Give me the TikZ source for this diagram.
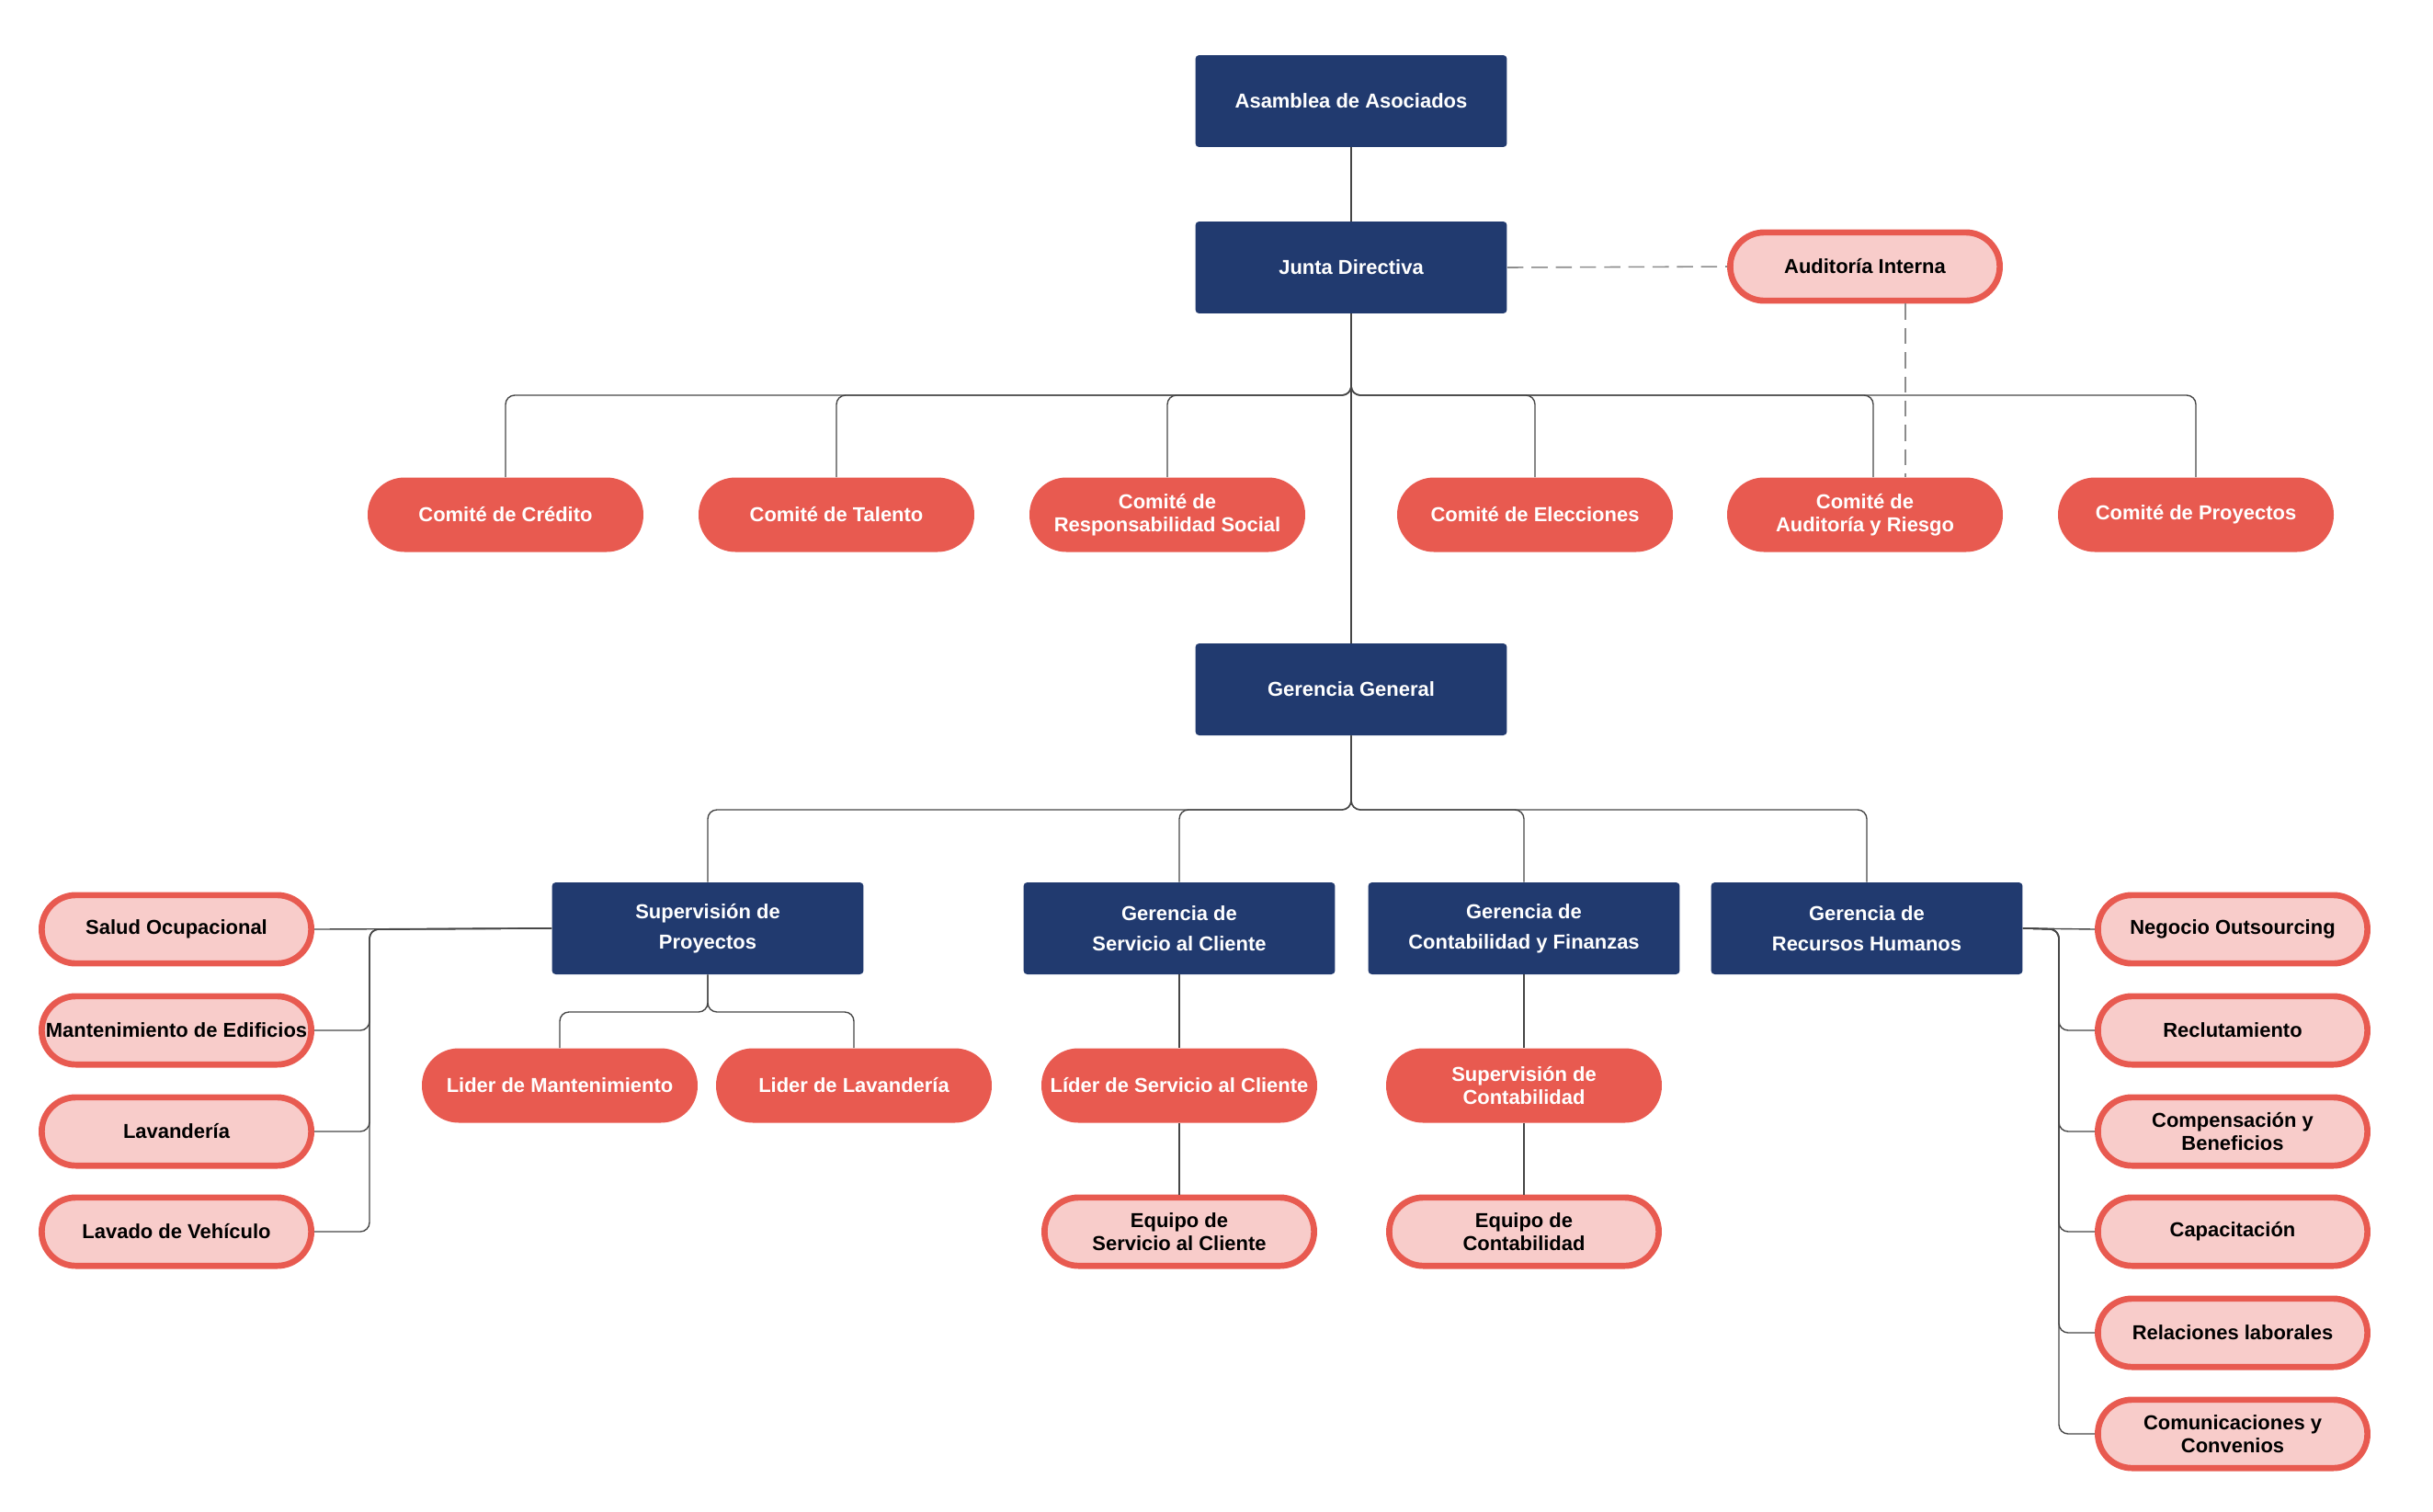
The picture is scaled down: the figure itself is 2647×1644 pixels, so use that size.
\documentclass[tikz,border=0pt]{standalone}
\usepackage{fontspec}
\setmainfont{Liberation Sans}
\usetikzlibrary{positioning}
\usetikzlibrary{calc}
\definecolor{navy}{RGB}{33,58,111}
\definecolor{coral}{RGB}{232,90,80}
\definecolor{blush}{RGB}{248,204,202}
\definecolor{wire}{RGB}{70,70,70}
\definecolor{dashgray}{RGB}{140,140,140}

\begin{document}
\begin{tikzpicture}[x=0.02cm,y=-0.02cm,
navybox/.style={rectangle,rounded corners=0.08cm,fill=navy,text=white,minimum width=6.78cm,minimum height=2cm,inner sep=1pt,align=center,font=\bfseries\fontsize{12.5}{19}\selectfont},
redpill/.style={rectangle,rounded corners=0.8cm,fill=coral,text=white,minimum width=6cm,minimum height=1.62cm,inner sep=1pt,align=center,font=\bfseries\fontsize{12.5}{14.5}\selectfont},
pinkpill/.style={rectangle,rounded corners=0.74cm,fill=blush,draw=coral,line width=3.8pt,text=black,minimum width=5.866cm,minimum height=1.486cm,inner sep=1pt,align=center,font=\bfseries\fontsize{12.5}{14.5}\selectfont},
conn/.style={draw=wire,line width=0.8pt,rounded corners=0.2cm},
dashconn/.style={draw=dashgray,line width=0.9pt,dash pattern=on 10pt off 5pt}]
\useasboundingbox (0,0) rectangle (2647,1644);
\node[navybox] (asamblea) at (1470,110) {Asamblea de Asociados};
\node[navybox] (junta) at (1470,291) {Junta Directiva};
\node[pinkpill] (auditoria) at (2029,290) {Auditoría Interna};
\node[redpill] (credito) at (550,560) {Comité de Crédito};
\node[redpill] (talento) at (910,560) {Comité de Talento};
\node[redpill] (social) at (1270,560) {Comité de\\Responsabilidad Social};
\node[redpill] (elecciones) at (1670,560) {Comité de Elecciones};
\node[redpill] (riesgo) at (2029,560) {Comité de\\Auditoría y Riesgo};
\node[redpill] (proyectos) at (2389,560) {Comité de Proyectos};
\node[navybox] (general) at (1470,750) {Gerencia General};
\node[navybox] (supproy) at (770,1010) {Supervisión de\\Proyectos};
\node[navybox] (servicio) at (1283,1010) {Gerencia de\\Servicio al Cliente};
\node[navybox] (finanzas) at (1658,1010) {Gerencia de\\Contabilidad y Finanzas};
\node[navybox] (rrhh) at (2031,1010) {Gerencia de\\Recursos Humanos};
\node[pinkpill] (salud) at (192,1011) {Salud Ocupacional};
\node[pinkpill] (edificios) at (192,1121) {Mantenimiento de Edificios};
\node[pinkpill] (lavanderia) at (192,1231) {Lavandería};
\node[pinkpill] (vehiculo) at (192,1340) {Lavado de Vehículo};
\node[redpill] (lidmant) at (609,1181) {Lider de Mantenimiento};
\node[redpill] (lidlav) at (929,1181) {Lider de Lavandería};
\node[redpill] (lidserv) at (1283,1181) {Líder de Servicio al Cliente};
\node[redpill] (supcont) at (1658,1181) {Supervisión de\\Contabilidad};
\node[pinkpill] (eqserv) at (1283,1340) {Equipo de\\Servicio al Cliente};
\node[pinkpill] (eqcont) at (1658,1340) {Equipo de\\Contabilidad};
\node[pinkpill] (outsourcing) at (2429,1011) {Negocio Outsourcing};
\node[pinkpill] (reclut) at (2429,1121) {Reclutamiento};
\node[pinkpill] (compens) at (2429,1231) {Compensación y\\Beneficios};
\node[pinkpill] (capacit) at (2429,1340) {Capacitación};
\node[pinkpill] (relac) at (2429,1450) {Relaciones laborales};
\node[pinkpill] (comunic) at (2429,1560) {Comunicaciones y\\Convenios};
\coordinate (bus1) at (1470,430);
\coordinate (bus2) at (1470,881);
\coordinate (bus3) at (770,1101);
\coordinate (lbus) at (402,1011);
\coordinate (rbus) at (2240,1011);
\draw[conn] (asamblea) -- (junta);
\draw[conn] (junta) -- (general);
\foreach \c in {credito,talento,social,elecciones,proyectos}
\draw[conn] (junta.south) -- (bus1) -| (\c.north);
\draw[conn] (junta.south) -- (bus1) -| ([xshift=0.18cm]riesgo.north);
\draw[dashconn] (junta.east) -- (auditoria.west);
\draw[dashconn] ([xshift=0.88cm]auditoria.south) -- ([xshift=0.88cm]riesgo.north);
\foreach \g in {supproy,servicio,finanzas,rrhh}
\draw[conn] (general.south) -- (bus2) -| (\g.north);
\foreach \l in {lidmant,lidlav}
\draw[conn] (supproy.south) -- (bus3) -| (\l.north);
\draw[conn] (servicio) -- (lidserv);
\draw[conn] (lidserv) -- (eqserv);
\draw[conn] (finanzas) -- (supcont);
\draw[conn] (supcont) -- (eqcont);
\draw[conn] (supproy.west) -- (salud.east);
\foreach \p in {edificios,lavanderia,vehiculo}
\draw[conn] (supproy.west) -- (lbus) |- (\p.east);
\draw[conn] (rrhh.east) -- (outsourcing.west);
\foreach \p in {reclut,compens,capacit,relac,comunic}
\draw[conn] (rrhh.east) -- (rbus) |- (\p.west);
\end{tikzpicture}
\end{document}
